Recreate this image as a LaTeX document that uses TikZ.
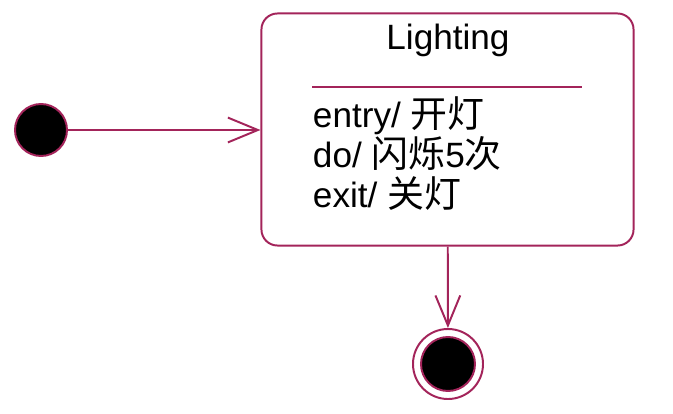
\documentclass[tikz,border=0pt]{standalone}
\usepackage{fontspec}
\setmainfont{Liberation Sans}
\newfontfamily\cjk[Scale=1.05]{Noto Sans CJK SC}
\usepackage{xcolor}
\definecolor{umlred}{HTML}{A3245A}
\usetikzlibrary{arrows.meta,positioning}

\begin{document}
\begin{tikzpicture}[
		x=0.025cm, y=-0.025cm,
		line width=1.4pt,
		trans/.style={umlred, -{Straight Barb[length=0.75cm, width=0.62cm]}},
		pseudo/.style={circle, fill=black, draw=umlred, inner sep=0pt},
		statetext/.style={font=\fontsize{25}{28.45}\selectfont, inner sep=0pt}
	]
		\useasboundingbox (0,0) rectangle (673,414);

		\node[pseudo, minimum size=1.3cm] (init) at (41,130) {};
		\node[draw=umlred, rounded corners=0.4cm, minimum width=9.3cm, minimum height=5.8cm] (lighting) at (447.5,129.5) {};
		\node[statetext] (title) at (448,40) {Lighting};
		\draw[umlred] (312,87) -- (582,87);
		\node[statetext, anchor=west, align=left] (acts) at (312,154) {entry/ {\cjk 开灯}\\do/ {\cjk 闪烁}5{\cjk 次}\\exit/ {\cjk 关灯}};

		\node[circle, draw=umlred, minimum size=1.75cm, inner sep=0pt] (final) at (448,364) {};
		\node[pseudo, minimum size=1.35cm] (finaldot) at (final) {};

		\draw[trans] (init) -- (init -| lighting.west);
		\draw[trans] (lighting) -- (final);
	\end{tikzpicture}
\end{document}
